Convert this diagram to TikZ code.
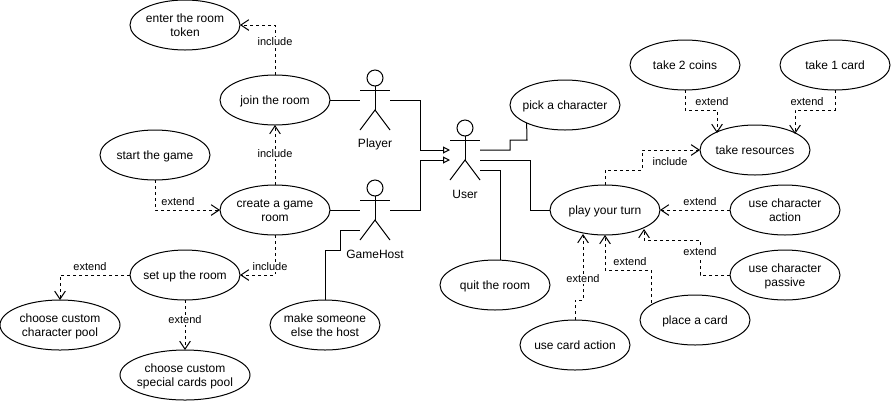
\documentclass[tikz,border=0pt]{standalone}
\usepackage{fontspec}
\setmainfont{Liberation Sans}
\usetikzlibrary{shapes.geometric,arrows.meta}
\tikzset{
  x=0.75pt,y=-0.75pt,
  every path/.style={line width=0.75pt},
  usecase/.style={ellipse,draw,minimum width=82.5pt,minimum height=37.5pt,inner sep=0pt,outer sep=0pt,font=\fontsize{9}{10.5}\selectfont},
  widecase/.style={usecase,minimum width=#1},
  actorbox/.style={rectangle,minimum width=22.5pt,minimum height=45pt,inner sep=0pt,outer sep=0pt},
  actorname/.style={inner sep=0pt,font=\fontsize{9}{10.5}\selectfont},
  assoc/.style={draw},
  gen/.style={draw,-{Triangle[open,length=5.25pt,width=5.25pt]}},
  dep/.style={draw,dash pattern=on 2.25pt off 2.25pt,-{Straight Barb[length=6pt,width=8pt]}},
  deplabel/.style={fill=white,inner sep=0.6pt,font=\fontsize{8.25}{9.5}\selectfont},
}
\newcommand{\uctext}[1]{\raisebox{-3.15pt}[0pt][0pt]{\makebox[0pt]{\begin{tabular}[c]{@{}c@{}}#1\end{tabular}}}}
\newcommand{\stickman}[1]{%
  \draw (#1.north) ++(0,8) circle (6pt);
  \draw (#1.north) ++(0,16) -- ++(0,24);
  \draw (#1.west) ++(0,-10) -- ++(30,0);
  \draw (#1.south west) -- ++(15,-20) -- ++(15,20);
}
\begin{document}
\begin{tikzpicture}
\useasboundingbox (0,0) rectangle (891,401);
% use cases
\node[usecase] (token) at (185,25) {\uctext{enter the room\\token}};
\node[usecase] (join) at (275,100) {\uctext{join the room}};
\node[usecase] (start) at (155,155) {\uctext{start the game}};
\node[usecase] (create) at (275,210) {\uctext{create a game\\room}};
\node[usecase] (setup) at (185,275) {\uctext{set up the room}};
\node[widecase=90pt] (charpool) at (60,325) {\uctext{choose custom\\character pool}};
\node[widecase=97.5pt] (cardpool) at (185,375) {\uctext{choose custom\\special cards pool}};
\node[usecase] (makehost) at (325,325) {\uctext{make someone\\else the host}};
\node[usecase] (quit) at (495,285) {\uctext{quit the room}};
\node[usecase] (pick) at (565,105) {\uctext{pick a character}};
\node[usecase] (coins) at (685,65) {\uctext{take 2 coins}};
\node[usecase] (onecard) at (835,65) {\uctext{take 1 card}};
\node[usecase] (resources) at (755,150) {\uctext{take resources}};
\node[usecase] (play) at (605,210) {\uctext{play your turn}};
\node[usecase] (charaction) at (785,210) {\uctext{use character\\action}};
\node[usecase] (charpassive) at (785,275) {\uctext{use character\\passive}};
\node[usecase] (place) at (695,320) {\uctext{place a card}};
\node[usecase] (cardaction) at (575,345) {\uctext{use card action}};
% actors
\node[actorbox] (player) at (375,100) {};
\node[actorbox] (host) at (375,210) {};
\node[actorbox] (user) at (465,150) {};
\stickman{player}
\stickman{host}
\stickman{user}
\node[actorname] (playername) at (375,144) {Player};
\node[actorname] (hostname) at (375,254) {GameHost};
\node[actorname] (username) at (465,194) {User};
% associations
\draw[assoc] (join.east) -- (player.west);
\draw[assoc] (create.east) -- (host.west);
\draw[gen] (player.east) -- (420,100) -- (420,150) -- (450,150);
\draw[gen] (host.east) -- (420,210) -- (420,160) -- (450,160);
\draw[assoc] (makehost.north) -- (325,250) -- (340,250) -- (340,230) -- (360,230);
\draw[assoc] (480,150) -- (510,150) -- (510,140) -- (527,140) -- (pick.205);
\draw[assoc] (480,160) -- (530,160) -- (530,210) -- (play.west);
\draw[assoc] (480,170) -- (500,170) -- (500,260);
% dependencies
\draw[dep] (join.north) -- (275,25) -- (token.east);
\draw[dep] (create.north) -- (join.south);
\draw[dep] (start.south) -- (155,210) -- (create.west);
\draw[dep] (create.south) -- (275,275) -- (setup.east);
\draw[dep] (setup.west) -- (60,275) -- (charpool.north);
\draw[dep] (setup.south) -- (cardpool.north);
\draw[dep] (coins.south) -- (685,110) -- (717,110) -- (717,133);
\draw[dep] (onecard.south) -- (835,110) -- (795,110) -- (795,134);
\draw[dep] (play.north) -- (605,170) -- (642,170) -- (642,150) -- (resources.west);
\draw[dep] (charaction.west) -- (play.east);
\draw[dep] (charpassive.west) -- (700,275) -- (700,240) -- (644,240) -- (644,229);
\draw[dep] (651,303) -- (651,270) -- (605,270) -- (play.south);
\draw[dep] (cardaction.north) -- (575,300) -- (583,300) -- (583,234);
% labels
\node[deplabel] (l1) at (275,41.7) {include};
\node[deplabel] (l2) at (275,153.7) {include};
\node[deplabel] (l3) at (178,201.7) {extend};
\node[deplabel] (l4) at (270,266.7) {include};
\node[deplabel] (l5) at (90,266.7) {extend};
\node[deplabel] (l6) at (185,319.7) {extend};
\node[deplabel] (l7) at (712,101.7) {extend};
\node[deplabel] (l8) at (807,101.7) {extend};
\node[deplabel] (l9) at (670,161.7) {include};
\node[deplabel] (l10) at (700,201.7) {extend};
\node[deplabel] (l11) at (700,251.7) {extend};
\node[deplabel] (l12) at (630,261.7) {extend};
\node[deplabel] (l13) at (583,278.7) {extend};
\end{tikzpicture}
\end{document}
